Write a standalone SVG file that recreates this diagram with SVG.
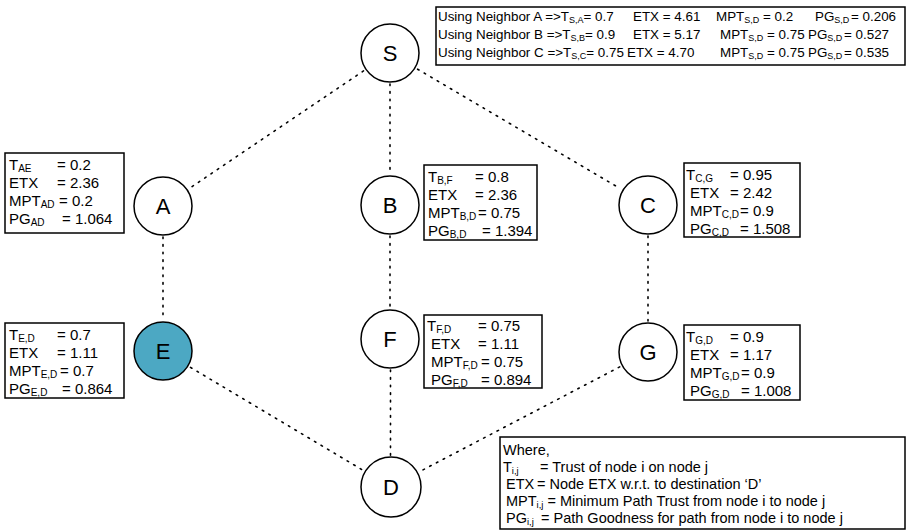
<svg xmlns="http://www.w3.org/2000/svg" width="910" height="530" viewBox="0 0 910 530">
<style>
text{font-family:"Liberation Sans",Arial,sans-serif;font-size:15px;fill:#000}
.sub{font-size:10px}
.top text{font-size:13.4px}
.top .sub{font-size:9px}
.leg text{font-size:14.5px}
.leg .sub{font-size:9.5px}
.node circle{fill:#fff;stroke:#000;stroke-width:1.5}
.node text{font-size:22px;text-anchor:middle}
.box{fill:#fff;stroke:#000;stroke-width:1.5}
#edges line{stroke:#000;stroke-width:1.6;stroke-dasharray:1.6 6;stroke-linecap:round}
</style>
<rect width="910" height="530" fill="#fff"/>
<g id="edges">
<line x1="363.5" y1="70.9" x2="190" y2="188"/>
<line x1="390" y1="84" x2="390" y2="174"/>
<line x1="417.6" y1="69.2" x2="620.4" y2="188.7"/>
<line x1="163" y1="237" x2="163" y2="320"/>
<line x1="390" y1="236" x2="390" y2="308"/>
<line x1="648" y1="236" x2="648" y2="321"/>
<line x1="190.5" y1="367.4" x2="363.5" y2="470.6"/>
<line x1="390.5" y1="370" x2="390.5" y2="456"/>
<line x1="619.7" y1="366.9" x2="418.7" y2="472.1"/>
</g>
<g id="S" class="node"><circle cx="390" cy="53" r="29"/><text x="390" y="61">S</text></g>
<g id="A" class="node"><circle cx="163" cy="206" r="29"/><text x="163" y="214">A</text></g>
<g id="B" class="node"><circle cx="390" cy="205" r="29"/><text x="390" y="213">B</text></g>
<g id="C" class="node"><circle cx="648" cy="205" r="29"/><text x="648" y="213">C</text></g>
<g id="E" class="node"><circle cx="163" cy="351" r="29" style="fill:#4ca8c3"/><text x="163" y="359">E</text></g>
<g id="F" class="node"><circle cx="390" cy="339" r="29"/><text x="390" y="347">F</text></g>
<g id="G" class="node"><circle cx="648" cy="352" r="29"/><text x="648" y="360">G</text></g>
<g id="D" class="node"><circle cx="391" cy="487" r="30"/><text x="391" y="495">D</text></g>

<g id="summary" class="top">
<rect class="box" x="436" y="7" width="469" height="58"/>
<text x="438" y="21">Using Neighbor A =&gt;T<tspan class="sub" dy="2">S,A</tspan><tspan dy="-2">= 0.7</tspan></text>
<text x="633" y="21">ETX = 4.61</text>
<text x="716" y="21">MPT<tspan class="sub" dy="2">S,D</tspan></text><text x="763" y="21">= 0.2</text>
<text x="815" y="21">PG<tspan class="sub" dy="2">S,D</tspan></text><text x="851" y="21">= 0.206</text>
<text x="438" y="39">Using Neighbor B =&gt;T<tspan class="sub" dy="2">S,B</tspan><tspan dy="-2">= 0.9</tspan></text>
<text x="633" y="39">ETX = 5.17</text>
<text x="720" y="39">MPT<tspan class="sub" dy="2">S,D</tspan></text><text x="767" y="39">= 0.75</text>
<text x="808" y="39">PG<tspan class="sub" dy="2">S,D</tspan></text><text x="844" y="39">= 0.527</text>
<text x="438" y="57">Using Neighbor C =&gt;T<tspan class="sub" dy="2">S,C</tspan><tspan dy="-2">= 0.75</tspan></text>
<text x="627" y="57">ETX = 4.70</text>
<text x="720" y="57">MPT<tspan class="sub" dy="2">S,D</tspan></text><text x="767" y="57">= 0.75</text>
<text x="808" y="57">PG<tspan class="sub" dy="2">S,D</tspan></text><text x="844" y="57">= 0.535</text>
</g>

<g id="boxA">
<rect class="box" x="5" y="153" width="119" height="80"/>
<text x="9" y="170">T<tspan class="sub" dy="2">AE</tspan></text><text x="57" y="170">= 0.2</text>
<text x="9" y="188">ETX</text><text x="57" y="188">= 2.36</text>
<text x="9" y="206">MPT<tspan class="sub" dy="2">AD</tspan></text><text x="59" y="206">= 0.2</text>
<text x="9" y="224">PG<tspan class="sub" dy="2">AD</tspan></text><text x="62" y="224">= 1.064</text>
</g>
<g id="boxB">
<rect class="box" x="424" y="165" width="113" height="75"/>
<text x="428" y="182">T<tspan class="sub" dy="2">B,F</tspan></text><text x="475" y="182">= 0.8</text>
<text x="428" y="200">ETX</text><text x="475" y="200">= 2.36</text>
<text x="428" y="218">MPT<tspan class="sub" dy="2">B,D</tspan></text><text x="478" y="218">= 0.75</text>
<text x="428" y="236">PG<tspan class="sub" dy="2">B,D</tspan></text><text x="482" y="236">= 1.394</text>
</g>
<g id="boxC">
<rect class="box" x="684" y="163" width="116" height="74"/>
<text x="686" y="180">T<tspan class="sub" dy="2">C,G</tspan></text><text x="730" y="180">= 0.95</text>
<text x="690" y="198">ETX</text><text x="730" y="198">= 2.42</text>
<text x="690" y="216">MPT<tspan class="sub" dy="2">C,D</tspan></text><text x="740" y="216">= 0.9</text>
<text x="690" y="234">PG<tspan class="sub" dy="2">C,D</tspan></text><text x="740" y="234">= 1.508</text>
</g>
<g id="boxE">
<rect class="box" x="5" y="323" width="119" height="75"/>
<text x="9" y="340">T<tspan class="sub" dy="2">E,D</tspan></text><text x="57" y="340">= 0.7</text>
<text x="9" y="358">ETX</text><text x="57" y="358">= 1.11</text>
<text x="9" y="376">MPT<tspan class="sub" dy="2">E,D</tspan></text><text x="60" y="376">= 0.7</text>
<text x="9" y="394">PG<tspan class="sub" dy="2">E,D</tspan></text><text x="62" y="394">= 0.864</text>
</g>
<g id="boxF">
<rect class="box" x="424" y="315" width="118" height="73"/>
<text x="427" y="331">T<tspan class="sub" dy="2">F,D</tspan></text><text x="478" y="331">= 0.75</text>
<text x="431" y="349">ETX</text><text x="478" y="349">= 1.11</text>
<text x="431" y="367">MPT<tspan class="sub" dy="2">F,D</tspan></text><text x="481" y="367">= 0.75</text>
<text x="431" y="385">PG<tspan class="sub" dy="2">F,D</tspan></text><text x="481" y="385">= 0.894</text>
</g>
<g id="boxG">
<rect class="box" x="684" y="325" width="116" height="75"/>
<text x="686" y="342">T<tspan class="sub" dy="2">G,D</tspan></text><text x="730" y="342">= 0.9</text>
<text x="690" y="360">ETX</text><text x="730" y="360">= 1.17</text>
<text x="690" y="378">MPT<tspan class="sub" dy="2">G,D</tspan></text><text x="741" y="378">= 0.9</text>
<text x="690" y="396">PG<tspan class="sub" dy="2">G,D</tspan></text><text x="741" y="396">= 1.008</text>
</g>
<g id="legend" class="leg">
<rect class="box" x="500" y="437" width="405" height="92"/>
<text x="503" y="455">Where,</text>
<text x="503" y="472">T<tspan class="sub" dy="2">i,j</tspan></text><text x="540" y="472">= Trust of node i on node j</text>
<text x="506" y="489">ETX</text><text x="537" y="489">= Node ETX w.r.t. to destination ‘D’</text>
<text x="506" y="506">MPT<tspan class="sub" dy="2">i,j</tspan><tspan dy="-2"> = Minimum Path Trust from node i to node j</tspan></text>
<text x="506" y="523">PG<tspan class="sub" dy="2">i,j</tspan></text><text x="541" y="523">= Path Goodness for path from node i to node j</text>
</g>
</svg>
